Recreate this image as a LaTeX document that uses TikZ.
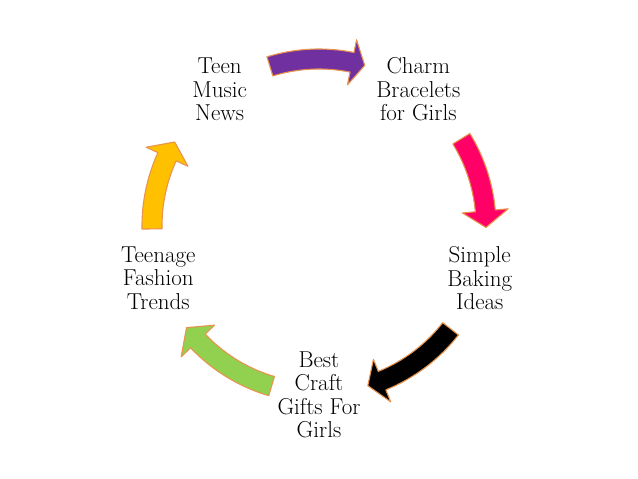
\documentclass[tikz,border=0pt]{standalone}
\usepackage{fontspec}
\begin{document}
\begin{tikzpicture}[x=1pt,y=1pt,
  lbl/.style={align=center, font=\fontsize{23}{23.5}\selectfont, inner sep=0pt},
  cyc/.style={draw=arrowedge, line width=1.1pt, line join=round}]
\definecolor{arrowedge}{HTML}{E8944E}
\definecolor{cpurple}{HTML}{7030A0}
\definecolor{cpink}{HTML}{FF0066}
\definecolor{cgreen}{HTML}{92D050}
\definecolor{corange}{HTML}{FFC000}
\useasboundingbox (-319pt,-253pt) rectangle (319pt,226pt);
\def\R{167}\def\w{10}\def\hw{23}
\newcommand{\cycarrow}[4]{%
  \pgfmathsetmacro{\Ro}{\R+\w}\pgfmathsetmacro{\Ri}{\R-\w}%
  \pgfmathsetmacro{\Rh}{\R+\hw}\pgfmathsetmacro{\Rl}{\R-\hw}%
  \path[cyc, fill=#4] (#1:\Ro pt) arc[start angle=#1, end angle=#2, radius=\Ro pt]
    -- (#2:\Rh pt) -- (#3:\R pt) -- (#2:\Rl pt) -- (#2:\Ri pt)
    arc[start angle=#2, end angle=#1, radius=\Ri pt] -- cycle;}
\node[lbl] (teen) at (126:169pt) {Teen\\Music\\News};
\node[lbl] (charm) at (54:169pt) {Charm\\Bracelets\\for Girls};
\node[lbl] (simple) at (-18:169pt) {Simple\\Baking\\Ideas};
\node[lbl] (best) at (-90:169pt) {Best\\Craft\\Gifts For\\Girls};
\node[lbl] (fashion) at (198:169pt) {Teenage\\Fashion\\Trends};
\cycarrow{107.1}{78.6}{74.1}{cpurple}
\cycarrow{31.5}{5.2}{-0.5}{cpink}
\cycarrow{-38}{-67.8}{-73}{black}
\cycarrow{-106.5}{-136.5}{-142.5}{cgreen}
\cycarrow{181}{155.5}{149.8}{corange}
\end{tikzpicture}
\end{document}
